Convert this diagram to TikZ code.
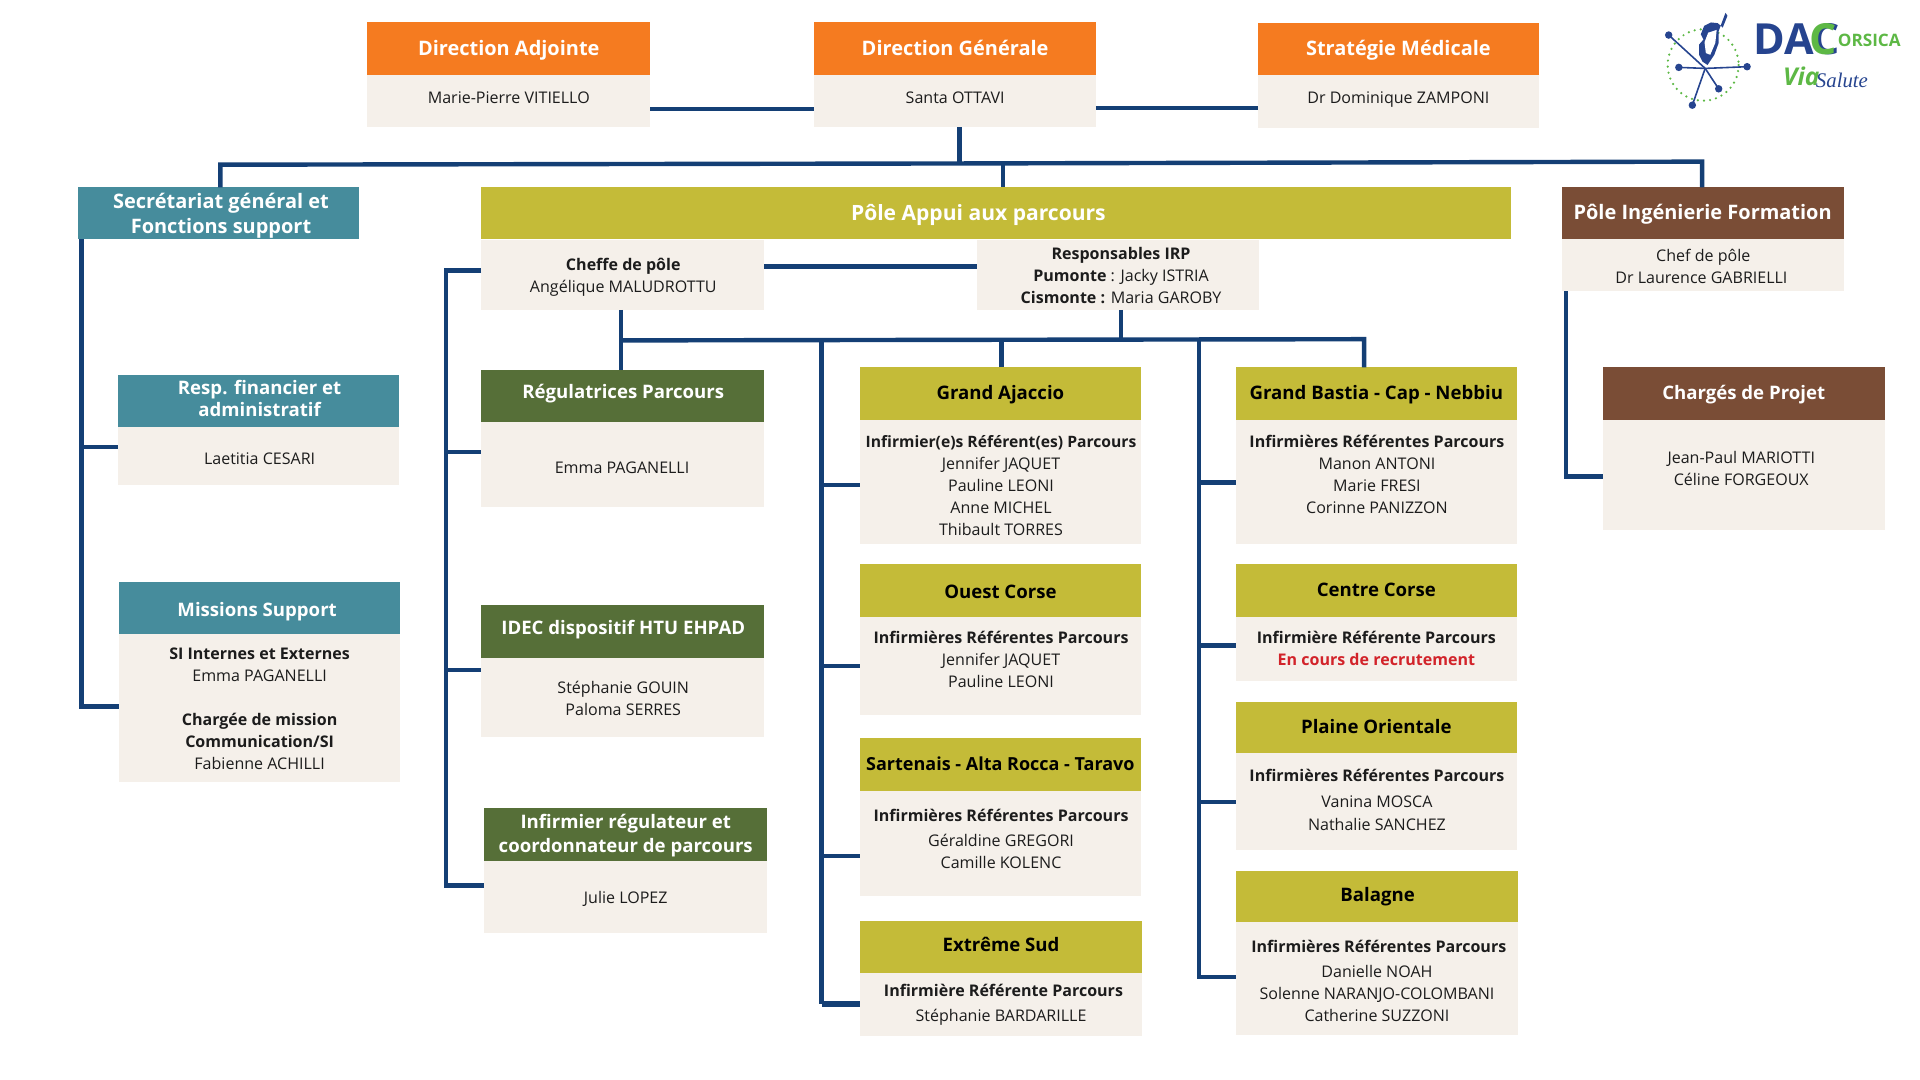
\documentclass[tikz,border=0pt]{standalone}
\usepackage{fontspec}
\setmainfont{Open Sans}
\newfontfamily\logofont{Open Sans}
\newfontfamily\salutefont{Liberation Serif}
\definecolor{orangeH}{HTML}{F57B20}
\definecolor{beige}{HTML}{F5F0EA}
\definecolor{tealH}{HTML}{468C9C}
\definecolor{oliveH}{HTML}{C4BB38}
\definecolor{greenH}{HTML}{566F38}
\definecolor{brownH}{HTML}{7A4D36}
\definecolor{navy}{HTML}{143F75}
\definecolor{redT}{HTML}{D2232A}
\definecolor{logoblue}{HTML}{26448F}
\definecolor{logogreen}{HTML}{5DB845}
\definecolor{ink}{HTML}{1C1C1C}
\newcounter{tlc}
\tikzset{
  panel/.style={draw=none,inner sep=0pt,outer sep=0pt},
  link/.style={draw=navy,line width=3.6pt,line join=miter},
  txt/.style={inner sep=0pt,yshift=-1.7pt,text=ink,font=\fontsize{13.1}{15}\selectfont,text height=10pt,text depth=3pt,align=center},
  ttl/.style={inner sep=0pt,yshift=-2.4pt,font=\fontsize{15.2}{18}\bfseries\selectfont,text height=11.5pt,text depth=3.5pt,align=center},
  big/.style={font=\fontsize{16.3}{18}\bfseries\selectfont},
  wt/.style={ttl,text=white},
  dk/.style={ttl,text=black},
}
% name, x1, x2, y1, y2, y3, colour
\newcommand{\orgbox}[7]{%
  \node[panel,fill=beige,minimum width={(#3-#2)*1pt},minimum height={(#6-#5)*1pt}] (#1B) at ({(#2+#3)/2},{(#5+#6)/2}) {};
  \node[panel,fill=#7,minimum width={(#3-#2)*1pt},minimum height={(#5-#4)*1pt}] (#1H) at ({(#2+#3)/2},{(#4+#5)/2}) {};
}
\newcommand{\tl}[3]{\stepcounter{tlc}\node[txt] (t\arabic{tlc}) at (#1,#2) {#3};}
\newcommand{\wtitle}[3]{\stepcounter{tlc}\node[wt] (t\arabic{tlc}) at (#1,#2) {#3};}
\newcommand{\wbig}[3]{\stepcounter{tlc}\node[wt,big] (t\arabic{tlc}) at (#1,#2) {#3};}
\newcommand{\dtitle}[3]{\stepcounter{tlc}\node[dk] (t\arabic{tlc}) at (#1,#2) {#3};}
\begin{document}
\begin{tikzpicture}[x=1pt,y=-1pt]
\useasboundingbox (0,0) rectangle (1568,882);
% boxes
\orgbox{da}{300}{531}{18}{61}{104}{orangeH}
\orgbox{dg}{665}{895}{18}{61}{104}{orangeH}
\orgbox{sm}{1027}{1257}{18.5}{61}{104.5}{orangeH}
\orgbox{sec}{64}{293}{153}{195}{195}{tealH}
\orgbox{resp}{96}{326}{306}{349}{396}{tealH}
\orgbox{mis}{97}{327}{475}{518}{639}{tealH}
\orgbox{pa}{393}{1234}{153}{195}{195}{oliveH}
\node[panel,fill=beige,minimum width=231pt,minimum height=57pt] (cheffe) at (508.5,224.5) {};
\node[panel,fill=beige,minimum width=230pt,minimum height=57pt] (irp) at (913,224.5) {};
\orgbox{reg}{393}{624}{302}{345}{414}{greenH}
\orgbox{idec}{393}{624}{494}{537}{602}{greenH}
\orgbox{inf}{395}{626}{660}{703}{762}{greenH}
\orgbox{aj}{702}{932}{300}{343}{444}{oliveH}
\orgbox{ou}{702}{932}{461}{504}{584}{oliveH}
\orgbox{sa}{702}{932}{603}{646}{732}{oliveH}
\orgbox{ex}{702}{933}{752}{795}{846}{oliveH}
\orgbox{ba}{1009}{1239}{300}{343}{444}{oliveH}
\orgbox{ce}{1009}{1239}{461}{504}{556}{oliveH}
\orgbox{pl}{1009}{1239}{573}{615}{694}{oliveH}
\orgbox{bl}{1009}{1240}{711}{753}{845}{oliveH}
\orgbox{pi}{1276}{1506}{153}{195}{238}{brownH}
\orgbox{cp}{1309}{1539}{300}{343}{433}{brownH}
% named junctions
\coordinate (top) at (783.5,133.5);
\coordinate (busL) at (180,134.5);
\coordinate (busR) at (1390,132);
\coordinate (busM) at (819,133.2);
\coordinate (daLink) at (0,89);
\coordinate (smLink) at (0,88);
\coordinate (secBot) at (66.5,195);
\coordinate (secTurn) at (66.5,577);
\coordinate (secMid) at (66.5,365);
\coordinate (apL) at (364,221);
\coordinate (apA) at (364,369);
\coordinate (apB) at (364,547);
\coordinate (apC) at (364,723);
\coordinate (irpLink) at (0,217.5);
\coordinate (row) at (507,278);
\coordinate (rowI) at (915.5,278);
\coordinate (rowR) at (1114,277);
\coordinate (colA) at (671,278);
\coordinate (colB) at (979,278);
\coordinate (colAj) at (818,278);
\coordinate (a1) at (671,396);
\coordinate (a2) at (671,544);
\coordinate (a3) at (671,699);
\coordinate (a4) at (671,820);
\coordinate (b1) at (979,394);
\coordinate (b2) at (979,527);
\coordinate (b3) at (979,655);
\coordinate (b4) at (979,798);
\coordinate (piL) at (1279,238);
\coordinate (piT) at (1279,389);
% connectors
\draw[link] (daB.east |- daLink) -- (dgB.west |- daLink);
\draw[link] (dgB.east |- smLink) -- (smB.west |- smLink);
\draw[link] (dgB.south -| top) -- (top);
\draw[link] (secH.north -| busL) -- (busL) -- (top) -- (busR) -- (piH.north -| busR);
\draw[link] (busM) -- (paH.north -| busM);
\draw[link] (secBot) -- (secTurn) -- (misB.west |- secTurn);
\draw[link] (secMid) -- (respB.west |- secMid);
\draw[link] (cheffe.west |- apL) -- (apL) -- (apC) -- (infB.west |- apC);
\draw[link] (apA) -- (regB.west |- apA);
\draw[link] (apB) -- (idecB.west |- apB);
\draw[link] (cheffe.east |- irpLink) -- (irp.west |- irpLink);
\draw[link] (cheffe.south -| row) -- (regH.north -| row);
\draw[link] (row) -- (rowR) -- (baH.north -| rowR);
\draw[link] (irp.south -| rowI) -- (rowI);
\draw[link] (colAj) -- (ajH.north -| colAj);
\draw[link] (colA) -- (a4);
\draw[link,line width=5pt] (a4) -- (exB.west |- a4);
\draw[link] (a1) -- (ajB.west |- a1);
\draw[link] (a2) -- (ouB.west |- a2);
\draw[link] (a3) -- (saB.west |- a3);
\draw[link] (colB) -- (b4) -- (blB.west |- b4);
\draw[link] (b1) -- (baB.west |- b1);
\draw[link] (b2) -- (ceB.west |- b2);
\draw[link] (b3) -- (plB.west |- b3);
\draw[link] (piL) -- (piT) -- (cpB.west |- piT);
% texts
\wbig{415.5}{39}{Direction Adjointe}
\tl{415.5}{79}{Marie-Pierre VITIELLO}
\wbig{780}{39}{Direction Générale}
\tl{780}{79}{Santa OTTAVI}
\wbig{1142}{39}{Stratégie Médicale}
\tl{1142}{79}{Dr Dominique ZAMPONI}
\wbig{180.5}{164}{Secrétariat général et}
\wbig{180.5}{184}{Fonctions support}
\wtitle{212}{316}{Resp. financier et}
\wtitle{212}{334}{administratif}
\tl{212}{374}{Laetitia CESARI}
\wtitle{210}{497}{Missions Support}
\tl{212}{533}{\textbf{SI Internes et Externes}}
\tl{212}{551}{Emma PAGANELLI}
\tl{212}{587}{\textbf{Chargée de mission}}
\tl{212}{605}{\textbf{Communication/SI}}
\tl{212}{623}{Fabienne ACHILLI}
\stepcounter{tlc}\node[wt,font=\fontsize{17.2}{18}\bfseries\selectfont] (t\arabic{tlc}) at (799,174) {Pôle Appui aux parcours};
\tl{509}{215.5}{\textbf{Cheffe de pôle}}
\tl{509}{233.5}{Angélique MALUDROTTU}
\tl{915.5}{207}{\textbf{Responsables IRP}}
\tl{915.5}{225}{\textbf{Pumonte} : Jacky ISTRIA}
\tl{915.5}{243}{\textbf{Cismonte :} Maria GAROBY}
\wtitle{509}{319}{Régulatrices Parcours}
\tl{508}{381.5}{Emma PAGANELLI}
\wtitle{509}{512}{IDEC dispositif HTU EHPAD}
\tl{509}{561}{Stéphanie GOUIN}
\tl{509}{579}{Paloma SERRES}
\wtitle{511}{670}{Infirmier régulateur et}
\wtitle{511}{690}{coordonnateur de parcours}
\tl{511}{732.5}{Julie LOPEZ}
\dtitle{817}{320}{Grand Ajaccio}
\stepcounter{tlc}\node[txt,font=\fontsize{12.8}{15}\selectfont] (t\arabic{tlc}) at (817.5,360) {\textbf{Infirmier(e)s Référent(es) Parcours}};
\tl{817.5}{378}{Jennifer JAQUET}
\tl{817.5}{396}{Pauline LEONI}
\tl{817.5}{414}{Anne MICHEL}
\tl{817.5}{432}{Thibault TORRES}
\dtitle{817}{482}{Ouest Corse}
\tl{817.5}{520}{\textbf{Infirmières Référentes Parcours}}
\tl{817.5}{538}{Jennifer JAQUET}
\tl{817.5}{556}{Pauline LEONI}
\stepcounter{tlc}\node[dk,font=\fontsize{14.7}{18}\bfseries\selectfont] (t\arabic{tlc}) at (817,623) {Sartenais - Alta Rocca - Taravo};
\tl{817.5}{666}{\textbf{Infirmières Référentes Parcours}}
\tl{817.5}{686}{Géraldine GREGORI}
\tl{817.5}{704}{Camille KOLENC}
\dtitle{817.5}{771}{Extrême Sud}
\tl{819.5}{809}{\textbf{Infirmière Référente Parcours}}
\tl{817.5}{829}{Stéphanie BARDARILLE}
\dtitle{1124}{320}{Grand Bastia - Cap - Nebbiu}
\tl{1124.5}{360}{\textbf{Infirmières Référentes Parcours}}
\tl{1124.5}{378}{Manon ANTONI}
\tl{1124.5}{396}{Marie FRESI}
\tl{1124.5}{414}{Corinne PANIZZON}
\dtitle{1124}{481}{Centre Corse}
\tl{1124}{520}{\textbf{Infirmière Référente Parcours}}
\tl{1124}{538}{\textcolor{redT}{\textbf{En cours de recrutement}}}
\dtitle{1124}{593}{Plaine Orientale}
\tl{1124.5}{633}{\textbf{Infirmières Référentes Parcours}}
\tl{1124.5}{654.5}{Vanina MOSCA}
\tl{1124.5}{673}{Nathalie SANCHEZ}
\dtitle{1125}{730}{Balagne}
\tl{1126}{772.5}{\textbf{Infirmières Référentes Parcours}}
\tl{1124.5}{793}{Danielle NOAH}
\tl{1124.5}{811}{Solenne NARANJO-COLOMBANI}
\tl{1124.5}{829}{Catherine SUZZONI}
\wbig{1390.5}{173}{Pôle Ingénierie Formation}
\tl{1391}{208.5}{Chef de pôle}
\tl{1389.5}{226.5}{Dr Laurence GABRIELLI}
\wtitle{1424}{320}{Chargés de Projet}
\tl{1422}{373}{Jean-Paul MARIOTTI}
\tl{1422}{391}{Céline FORGEOUX}
% logo
\begin{scope}[shift={(1337.9,-1.12)},x=0.276pt,y=-0.278pt]
  \draw[logogreen,line width=2pt,dash pattern=on 0pt off 5pt,line cap=round] (192,195) circle[x radius=105,y radius=105];
  \fill[logoblue] (258,42)--(264,50)--(250,85)--(235,72)--(215,70)--(195,80)--(185,105)--(193,120)--(180,135)--(180,165)--(190,185)--(205,195)--(225,165)--(238,130)--(238,95)--cycle;
  \fill[white] (207,100)--(232,92)--(228,130)--(213,165)--(200,160)--(196,128)--cycle;
  \coordinate (hub) at (198,205);
  \foreach \nm/\p/\q in {d1/90/107,d2/120/202,d3/322/200,d4/238/265,d5/160/313}{
    \draw[logoblue,line width=1.3pt] (hub) -- (\p,\q);
    \fill[logoblue] (\p,\q) circle[x radius=11,y radius=11];
  }
  \node[inner sep=0pt,anchor=west,text=logoblue,font=\logofont\fontsize{35}{35}\bfseries\selectfont] (dac) at (340,120) {DA};
  \node[inner sep=0pt,anchor=west,text=logoblue,font=\logofont\fontsize{35}{35}\bfseries\selectfont] (c1) at (515,120) {C};
  \node[inner sep=0pt,anchor=west,text=logogreen,font=\logofont\fontsize{35}{35}\bfseries\selectfont] (c2) at (505,120) {C};
  \node[inner sep=0pt,anchor=west,text=logogreen,font=\logofont\fontsize{14}{16}\bfseries\selectfont] (cors) at (590,122) {ORSICA};
  \node[inner sep=0pt,anchor=west,text=logogreen,font=\logofont\fontsize{20}{20}\bfseries\itshape\selectfont] (via) at (428,228) {Via};
  \node[inner sep=0pt,anchor=west,text=logoblue,font=\salutefont\fontsize{17}{17}\itshape\selectfont] (sal) at (525,240) {Salute};
\end{scope}
\end{tikzpicture}
\end{document}
